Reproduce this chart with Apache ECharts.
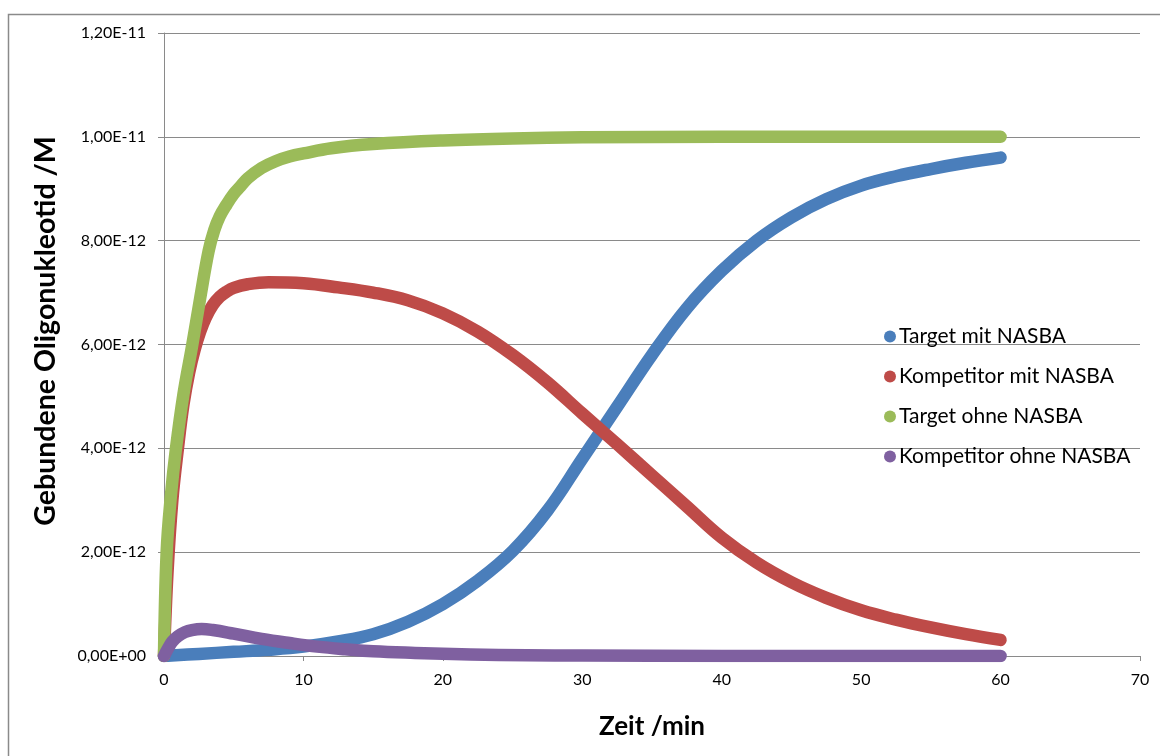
<!DOCTYPE html>
<html>
<head>
<meta charset="utf-8">
<script src="https://cdn.jsdelivr.net/npm/echarts@6/dist/echarts.min.js"></script>
<style>
html,body{margin:0;padding:0;background:#fff;}
#chart{width:1160px;height:756px;}
</style>
</head>
<body>
<div id="chart"></div>
<script>
// values of the y series are in units of 1E-12 M
const UNIT = 1e-12;
const seriesNames = ['Target mit NASBA', 'Kompetitor mit NASBA', 'Target ohne NASBA', 'Kompetitor ohne NASBA'];
const xTicks = [0, 10, 20, 30, 40, 50, 60, 70];
const yTicks = [0, 2, 4, 6, 8, 10, 12];
const xTitle = 'Zeit /min';
const yTitle = 'Gebundene Oligonukleotid /M';

const targetMitT = [0, 2.5, 5, 7.5, 10, 12.5, 15, 17.5, 20, 22.5, 25, 27.5, 30, 32.5, 35, 37.5, 40, 42.5, 45, 47.5, 50, 52.5, 55, 57.5, 60];
const targetMitV = [0, 0.04, 0.08, 0.12, 0.18, 0.28, 0.42, 0.66, 1.0, 1.45, 2.02, 2.8, 3.8, 4.8, 5.8, 6.7, 7.42, 8.0, 8.45, 8.8, 9.06, 9.24, 9.38, 9.5, 9.6];

const kompMitT = [0, 0.25, 0.6, 1.0, 1.4, 1.8, 2.2, 2.6, 3.0, 3.5, 4.0, 4.5, 5, 6, 7.5, 10, 12.5, 15, 17.5, 20, 22.5, 25, 27.5, 30, 32.5, 35, 37.5, 40, 42.5, 45, 47.5, 50, 52.5, 55, 57.5, 60];
const kompMitV = [0, 1.6, 3.0, 4.0, 4.85, 5.45, 5.9, 6.25, 6.52, 6.76, 6.92, 7.02, 7.09, 7.16, 7.2, 7.18, 7.1, 7.0, 6.85, 6.6, 6.25, 5.8, 5.27, 4.67, 4.08, 3.48, 2.88, 2.28, 1.8, 1.42, 1.12, 0.88, 0.7, 0.55, 0.42, 0.31];

const targetOhneT = [0, 0.19, 0.5, 0.86, 1.4, 2.0, 2.6, 3.2, 3.6, 4.0, 4.5, 5.0, 5.5, 6.0, 7.0, 8.0, 9.0, 10, 12, 15, 20, 25, 30, 40, 50, 60];
const targetOhneV = [0, 2.0, 3.1, 4.0, 5.05, 5.95, 6.9, 7.8, 8.2, 8.47, 8.7, 8.9, 9.05, 9.2, 9.4, 9.53, 9.62, 9.68, 9.78, 9.86, 9.93, 9.97, 9.99, 10, 10, 10];

const kompOhneT = [0, 0.3, 0.6, 1, 1.5, 2, 2.7, 3.5, 5, 7, 9, 11, 13, 15, 18, 22, 26, 30, 40, 50, 60];
const kompOhneV = [0, 0.15, 0.28, 0.38, 0.46, 0.5, 0.52, 0.5, 0.43, 0.33, 0.25, 0.18, 0.13, 0.09, 0.06, 0.03, 0.015, 0.008, 0.002, 0, 0];

const colors = ['#4A7EBB', '#BE4B48', '#9BBB59', '#7F60A0'];

function pairs(ts, vs) { return ts.map((t, i) => [t, vs[i] * UNIT]); }
const allData = [
  pairs(targetMitT, targetMitV),
  pairs(kompMitT, kompMitV),
  pairs(targetOhneT, targetOhneV),
  pairs(kompOhneT, kompOhneV)
];

function fmtY(v) {
  if (Math.abs(v) < 1e-20) return '0,00E+00';
  let e = Math.floor(Math.log10(Math.abs(v)));
  let m = v / Math.pow(10, e);
  if (Math.abs(m) >= 9.995) { m /= 10; e += 1; }
  if (Math.abs(m) < 1) { m *= 10; e -= 1; }
  return m.toFixed(2).replace('.', ',') + 'E' + (e < 0 ? '-' : '+') + String(Math.abs(e)).padStart(2, '0');
}

const FONT = 'Lato, "Open Sans", sans-serif';
const GRID_COLOR = '#8a8a8a';

const chart = echarts.init(document.getElementById('chart'), null, {renderer: 'canvas'});
chart.setOption({
  animation: false,
  backgroundColor: '#ffffff',
  graphic: [{
    type: 'rect',
    shape: {x: 8.5, y: 14.5, width: 1200, height: 800},
    style: {fill: 'none', stroke: GRID_COLOR, lineWidth: 1.5},
    silent: true, z: -1
  }, {
    type: 'text',
    x: 46, y: 331,
    rotation: Math.PI / 2,
    style: {
      text: yTitle,
      fill: '#000',
      font: 'bold 28.5px Lato, "Open Sans", sans-serif',
      align: 'center',
      verticalAlign: 'middle'
    },
    silent: true
  }],
  grid: {left: 164, right: 20, top: 33, bottom: 100, containLabel: false},
  legend: {
    orient: 'vertical',
    left: 879,
    top: 321,
    icon: 'circle',
    itemWidth: 12,
    itemHeight: 12,
    itemGap: 19,
    data: seriesNames,
    textStyle: {fontFamily: FONT, fontSize: 21, color: '#000', lineHeight: 21, padding: [0, 0, 0, -2]}
  },
  xAxis: {
    type: 'value',
    min: xTicks[0],
    max: xTicks[xTicks.length - 1],
    interval: xTicks[1] - xTicks[0],
    name: xTitle,
    nameLocation: 'middle',
    nameGap: 58,
    nameTextStyle: {fontFamily: FONT, fontSize: 26, fontWeight: 'bold', color: '#000'},
    axisLine: {show: true, onZero: false, lineStyle: {color: GRID_COLOR, width: 1}},
    axisTick: {show: true, inside: false, length: 5, lineStyle: {color: GRID_COLOR}},
    axisLabel: {fontFamily: FONT, fontSize: 16, color: '#000', margin: 16},
    splitLine: {show: false}
  },
  yAxis: {
    type: 'value',
    min: yTicks[0] * UNIT,
    max: yTicks[yTicks.length - 1] * UNIT,
    interval: (yTicks[1] - yTicks[0]) * UNIT,
    axisLine: {show: true, lineStyle: {color: GRID_COLOR, width: 1}},
    axisTick: {show: true, inside: false, length: 6, lineStyle: {color: GRID_COLOR}},
    axisLabel: {fontFamily: FONT, fontSize: 16, color: '#000', margin: 18, formatter: fmtY},
    splitLine: {show: true, lineStyle: {color: GRID_COLOR, width: 1}}
  },
  series: allData.map((d, i) => ({
    name: seriesNames[i],
    type: 'line',
    data: d,
    smooth: 0.4,
    showSymbol: false,
    symbol: 'circle',
    color: colors[i],
    lineStyle: {width: 12.5, color: colors[i], cap: 'round', join: 'round'},
    itemStyle: {color: colors[i]},
    emphasis: {disabled: true}
  }))
});
</script>
</body>
</html>
